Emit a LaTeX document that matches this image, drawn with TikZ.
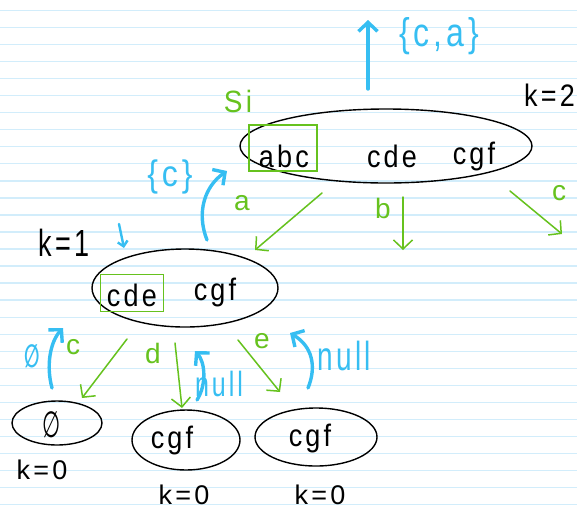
\documentclass[tikz,border=0pt]{standalone}
\usepackage{fontspec}
\setmainfont{Liberation Sans}
\newfontfamily\hand[LetterSpace=12]{Liberation Sans}
\newfontfamily\symb{DejaVu Sans}
\usetikzlibrary{arrows.meta,shapes.geometric}
\definecolor{rule}{HTML}{D2EDFB}
\definecolor{inkgreen}{HTML}{66C21E}
\definecolor{inkblue}{HTML}{36BEF2}
\newcommand{\hsz}[2]{\fontsize{#1}{#1}\selectfont\hand #2}
\newcommand{\tall}[2]{\scalebox{1}[#1]{#2}}
\begin{document}
\begin{tikzpicture}[x=1pt,y=-1pt,
  setnode/.style={draw=black,line width=1.4pt,ellipse,inner sep=0pt},
  settext/.style={inner sep=0pt,text=black,font=\hsz{27}{}},
  keybox/.style={draw=inkgreen,line width=1.8pt,inner sep=0pt},
  edge/.style={draw=inkgreen,line width=1.5pt,line cap=round,
    -{Straight Barb[length=9pt,width=19pt]}},
  back/.style={draw=inkblue,line width=3.4pt,line cap=round,
    -{Straight Barb[length=9pt,width=19pt]}},
  edgelbl/.style={inner sep=0pt,text=inkgreen,font=\hsz{28}{}},
  retlbl/.style={inner sep=0pt,text=inkblue,font=\hsz{32}{}},
  klbl/.style={inner sep=0pt,text=black,font=\hsz{27}{}},
]
\useasboundingbox (0,0) rectangle (577,512);
\clip (0,0) rectangle (577,512);
\fill[white] (0,0) rectangle (577,512);
% ruled paper
\foreach \i in {0,...,29}
  \draw[rule,line width=1.4pt] (0,10.3+17.05*\i) -- (577,10.3+17.05*\i);

% top set, k=2
\node[setnode,minimum width=292,minimum height=74] (top) at (386,146) {};
\node[keybox,minimum width=68,minimum height=46] (topkey) at (283,148) {};
\node[settext] (abc) at (284,156) {\tall{1.15}{abc}};
\node[settext] (cde1) at (392,156) {\tall{1.15}{cde}};
\node[settext] (cgf1) at (474,156) {\tall{1.15}{cgf}};
\node[klbl,anchor=east] (k2) at (575,95) {\tall{1.15}{k=2}};
\node[edgelbl] (si) at (238,101) {\tall{1.1}{Si}};

% middle set, k=1
\node[setnode,minimum width=186,minimum height=78] (mid) at (185,288) {};
\node[keybox,minimum width=63,minimum height=37] (midkey) at (132,293) {};
\node[settext] (cde2) at (132,295) {\tall{1.15}{cde}};
\node[settext] (cgf2) at (215,292) {\tall{1.15}{cgf}};
\node[klbl] (k1) at (64,243) {\tall{1.4}{k=1}};

% leaves, k=0
\node[setnode,minimum width=90,minimum height=44] (leafA) at (57,423) {};
\node[inner sep=0pt,font=\fontsize{26}{26}\selectfont\symb] (empty) at (52,425) {\scalebox{0.8}[1.4]{∅}};
\node[setnode,minimum width=108,minimum height=60] (leafB) at (186,440) {};
\node[settext] (cgf3) at (172,440) {\tall{1.15}{cgf}};
\node[setnode,minimum width=122,minimum height=58] (leafC) at (316,437) {};
\node[settext] (cgf4) at (310,438) {\tall{1.15}{cgf}};
\node[klbl] (k0a) at (42,470) {k=0};
\node[klbl] (k0b) at (184,495) {k=0};
\node[klbl] (k0c) at (320,495) {k=0};

% edge end points
\coordinate (aS) at (322,193); \coordinate (aE) at (255,250);
\coordinate (bS) at (403,197); \coordinate (bE) at (403,250);
\coordinate (cS) at (510,191); \coordinate (cE) at (562,234);
\coordinate (c2S) at (127,339); \coordinate (c2E) at (82,398);
\coordinate (dS) at (175,343); \coordinate (dE) at (182,408);
\coordinate (eS) at (238,340); \coordinate (eE) at (280,392);

% green edges
\draw[edge] (aS) -- (aE);
\draw[edge] (bS) -- (bE);
\draw[edge] (cS) -- (cE);
\draw[edge] (c2S) -- (c2E);
\draw[edge] (dS) -- (dE);
\draw[edge] (eS) -- (eE);
\node[edgelbl] (la) at (242,203) {a};
\node[edgelbl] (lb) at (383,208) {b};
\node[edgelbl] (lc) at (559,193) {c};
\node[edgelbl] (lc2) at (73,347) {c};
\node[edgelbl] (ld) at (153,353) {d};
\node[edgelbl] (le) at (262,341) {e};

% blue return arrows
\coordinate (rTopS) at (368,89); \coordinate (rTopE) at (368,20);
\coordinate (rAS) at (207,240); \coordinate (rAE) at (227,171);
\coordinate (rKS) at (119,224); \coordinate (rKE) at (124,248);
\coordinate (rCS) at (52,388); \coordinate (rCE) at (63,328);
\coordinate (rDS) at (197,400); \coordinate (rDE) at (195,351);
\coordinate (rES) at (308,388); \coordinate (rEE) at (290,333);

\draw[back] (rTopS) -- (rTopE);
\draw[back] (rAS) .. controls (196,212) and (205,186) .. (rAE);
\draw[back,line width=2.4pt,-{Straight Barb[length=5pt,width=10pt]}] (rKS) -- (rKE);
\draw[back] (rCS) .. controls (46,366) and (50,342) .. (rCE);
\draw[back] (rDS) .. controls (207,384) and (205,362) .. (rDE);
\draw[back] (rES) .. controls (317,366) and (312,346) .. (rEE);

\node[retlbl] (ret0) at (439,36) {\tall{1.25}{\{c,a\}}};
\node[retlbl] (ret1) at (170,177) {\tall{1.15}{\{c\}}};
\node[inner sep=0pt,text=inkblue,font=\fontsize{20}{20}\selectfont\symb\bfseries] (retC) at (32,356) {\scalebox{0.9}[1.6]{∅}};
\node[inner sep=0pt,text=inkblue,font=\hsz{25}{}] (retD) at (219,384) {\tall{1.4}{null}};
\node[inner sep=0pt,text=inkblue,font=\hsz{28}{}] (retE) at (344,356) {\tall{1.45}{null}};
\end{tikzpicture}
\end{document}
